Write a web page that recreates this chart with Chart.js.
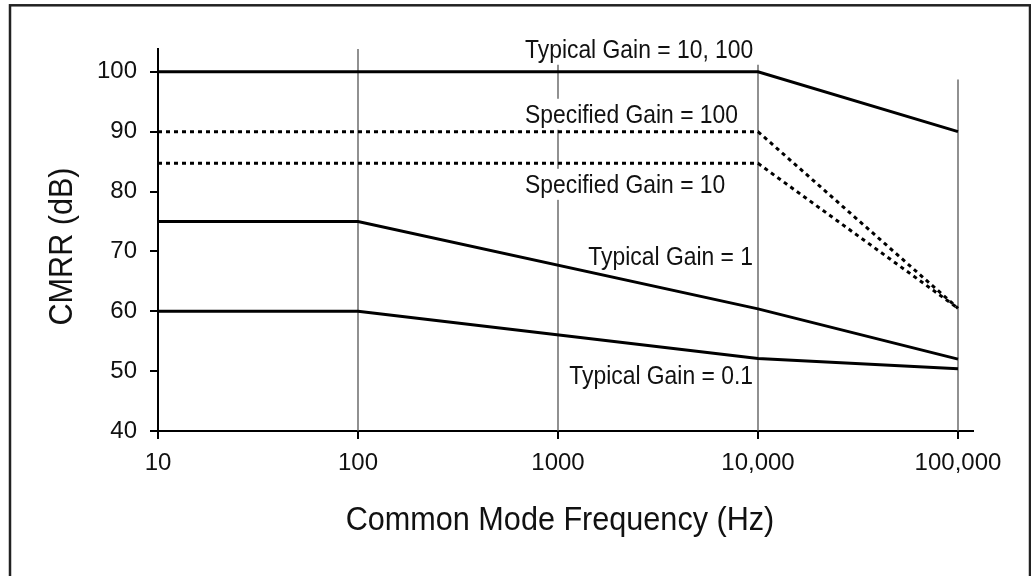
<!DOCTYPE html>
<html><head><meta charset="utf-8">
<script src="https://cdn.jsdelivr.net/npm/chart.js@4.4.1/dist/chart.umd.min.js"></script>
<style>html,body{margin:0;padding:0;background:#fff;}canvas{display:block}</style>
</head><body>
<canvas id="c" width="1031" height="576"></canvas>
<script>
// ---- data ----
const freqTicks = [10, 100, 1000, 10000, 100000];
const freqTickLabels = ['10', '100', '1000', '10,000', '100,000'];
const cmrrTicks = [40, 50, 60, 70, 80, 90, 100];

const typGain10_100Freq = [10, 10000, 100000];
const typGain10_100 = [100, 100, 90];
const specGain100Freq = [10, 10000, 100000];
const specGain100 = [90, 90, 60.5];
const specGain10Freq = [10, 10000, 100000];
const specGain10 = [84.7, 84.7, 60.5];
const typGain1Freq = [10, 100, 10000, 100000];
const typGain1 = [75, 75, 60.4, 52];
const typGain01Freq = [10, 100, 10000, 100000];
const typGain01 = [60, 60, 52.1, 50.4];

const labelTexts = ['Typical Gain = 10, 100', 'Specified Gain = 100', 'Specified Gain = 10', 'Typical Gain = 1', 'Typical Gain = 0.1'];
const labelFreqs = [684, 684, 684, 9441, 9441];
const labelLevels = [102.34, 91.48, 79.78, 67.74, 47.85];
const labelAligns = ['left', 'left', 'left', 'right', 'right'];

const gridFreqs = [100, 1000, 10000, 100000];
const gridTopLevels = [103.8, 103.8, 103.8, 98.7];

// ---- helpers ----
const pts = (xs, ys) => xs.map((x, i) => ({x: x, y: ys[i]}));
const FONT = '"Liberation Sans", Arial, sans-serif';
const INK = '#111';
const LABEL_FONT = '25px ' + FONT;
const SX = 0.915;

const decor = {
  id: 'decor',
  beforeDraw(chart) {
    const ctx = chart.ctx;
    ctx.save();
    ctx.fillStyle = '#fff';
    ctx.fillRect(0, 0, chart.width, chart.height);
    ctx.strokeStyle = '#222';
    ctx.lineWidth = 2.5;
    ctx.strokeRect(10, 5.3, 1020, 700);
    ctx.restore();
  },
  beforeDatasetsDraw(chart) {
    const ctx = chart.ctx, xs = chart.scales.x, ys = chart.scales.y;
    ctx.save();
    ctx.strokeStyle = '#555';
    ctx.lineWidth = 1.3;
    gridFreqs.forEach((f, i) => {
      const px = xs.getPixelForValue(f);
      ctx.beginPath();
      ctx.moveTo(px, ys.getPixelForValue(gridTopLevels[i]));
      ctx.lineTo(px, chart.chartArea.bottom);
      ctx.stroke();
    });
    // white boxes behind the labels
    ctx.font = LABEL_FONT;
    ctx.fillStyle = '#fff';
    labelTexts.forEach((t, i) => {
      const w = ctx.measureText(t).width * SX;
      const ax = xs.getPixelForValue(labelFreqs[i]);
      const by = ys.getPixelForValue(labelLevels[i]);
      if (labelAligns[i] === 'left') {
        ctx.fillRect(ax - 7, by - 24, w + 15, 31);
      } else {
        ctx.fillRect(ax - w - 7, by - 24, w + 9, 31);
      }
    });
    ctx.restore();
  },
  afterDraw(chart) {
    const ctx = chart.ctx, xs = chart.scales.x, ys = chart.scales.y;
    ctx.save();
    ctx.fillStyle = INK;
    ctx.textBaseline = 'alphabetic';
    ctx.font = LABEL_FONT;
    labelTexts.forEach((t, i) => {
      ctx.save();
      ctx.translate(xs.getPixelForValue(labelFreqs[i]), ys.getPixelForValue(labelLevels[i]));
      ctx.scale(SX, 1);
      ctx.textAlign = labelAligns[i];
      ctx.fillText(t, 0, 0);
      ctx.restore();
    });
    // axis titles
    ctx.font = '34px ' + FONT;
    ctx.textAlign = 'center';
    ctx.save();
    ctx.translate(560, 530);
    ctx.scale(0.9, 1);
    ctx.fillText('Common Mode Frequency (Hz)', 0, 0);
    ctx.restore();
    ctx.save();
    ctx.translate(72, 246.5);
    ctx.rotate(-Math.PI / 2);
    ctx.scale(0.9, 1);
    ctx.fillText('CMRR (dB)', 0, 0);
    ctx.restore();
    ctx.restore();
  }
};

Chart.defaults.font.family = FONT;
Chart.defaults.color = INK;

const solid = (data) => ({data, borderColor: '#000', borderWidth: 3, pointRadius: 0, showLine: true, fill: false, tension: 0});
const dotted = (data) => Object.assign(solid(data), {borderDash: [4, 4]});

new Chart(document.getElementById('c'), {
  type: 'scatter',
  data: {
    datasets: [
      Object.assign(solid(pts(typGain10_100Freq, typGain10_100)), {label: 'Typical Gain = 10, 100'}),
      Object.assign(dotted(pts(specGain100Freq, specGain100)), {label: 'Specified Gain = 100'}),
      Object.assign(dotted(pts(specGain10Freq, specGain10)), {label: 'Specified Gain = 10'}),
      Object.assign(solid(pts(typGain1Freq, typGain1)), {label: 'Typical Gain = 1'}),
      Object.assign(solid(pts(typGain01Freq, typGain01)), {label: 'Typical Gain = 0.1'})
    ]
  },
  options: {
    responsive: false,
    animation: false,
    devicePixelRatio: 1,
    layout: {padding: {top: 49, right: 58, left: 0, bottom: 0}},
    plugins: {legend: {display: false}, tooltip: {enabled: false}},
    scales: {
      x: {
        type: 'logarithmic',
        min: 10,
        max: 118850,
        afterBuildTicks: s => { s.ticks = freqTicks.map(v => ({value: v})); },
        afterFit: s => { s.height = 145; },
        ticks: {
          autoSkip: false, maxRotation: 0, padding: 10,
          font: {size: 24}, color: INK,
          callback: (v, i) => freqTickLabels[i]
        },
        grid: {drawOnChartArea: false, drawTicks: true, tickLength: 8, color: '#000', lineWidth: 2},
        border: {display: true, color: '#000', width: 2}
      },
      y: {
        type: 'linear',
        min: 40,
        max: 103.8,
        afterBuildTicks: s => { s.ticks = cmrrTicks.map(v => ({value: v})); },
        afterFit: s => { s.width = 158; },
        ticks: {padding: 13, font: {size: 24}, color: INK, callback: v => String(v)},
        grid: {drawOnChartArea: false, drawTicks: true, tickLength: 8, color: '#000', lineWidth: 2},
        border: {display: true, color: '#000', width: 2}
      }
    }
  },
  plugins: [decor]
});
</script>
</body></html>
